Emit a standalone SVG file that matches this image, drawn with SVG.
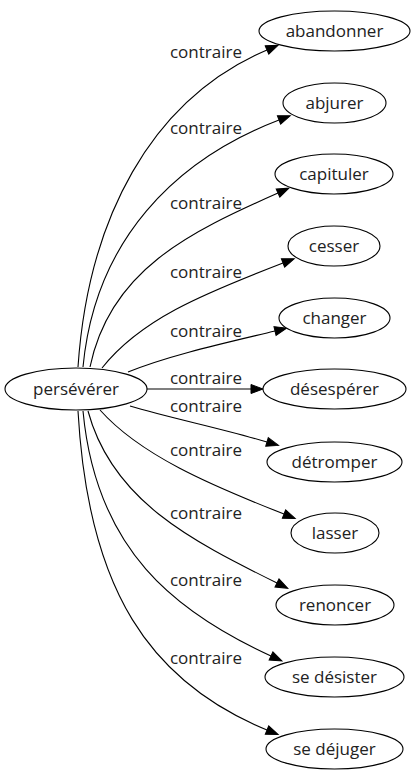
<svg xmlns="http://www.w3.org/2000/svg" width="415" height="779" viewBox="0 0 415 779">
<style>
.node ellipse{fill:#fff;stroke:#000;stroke-width:1.1}
.node text{font-family:"Open Sans","DejaVu Sans",sans-serif;font-size:17px;text-anchor:middle;fill:#222}
.edges path{fill:none;stroke:#000;stroke-width:1.1}
.edges text{font-family:"Open Sans","DejaVu Sans",sans-serif;font-size:17px;text-anchor:middle;fill:#222}
</style>
<defs>
<marker id="arr" markerUnits="userSpaceOnUse" markerWidth="14" markerHeight="10" refX="0" refY="4.5" orient="auto" overflow="visible">
<path d="M0,0 L12,4.5 L0,9 z" fill="#000" stroke="#000" stroke-width="1"/>
</marker>
</defs>
<g class="edges">
<path d="M78,367 C88,220 150,100 267,50" marker-end="url(#arr)"/>
<text x="206" y="58">contraire</text>
<path d="M83,367 C95,240 175,160 279,120" marker-end="url(#arr)"/>
<text x="206" y="134">contraire</text>
<path d="M90,367 C110,270 190,232 278,193" marker-end="url(#arr)"/>
<text x="206" y="209">contraire</text>
<path d="M102,368 C140,320 200,295 283,263" marker-end="url(#arr)"/>
<text x="206" y="278">contraire</text>
<path d="M128,372 C170,355 225,343 275,331" marker-end="url(#arr)"/>
<text x="206" y="337">contraire</text>
<path d="M147,389 L251,389" marker-end="url(#arr)"/>
<text x="206" y="384">contraire</text>
<path d="M130,406 C170,418 220,428 267,442" marker-end="url(#arr)"/>
<text x="206" y="412">contraire</text>
<path d="M100,410 C140,455 210,485 284,514" marker-end="url(#arr)"/>
<text x="206" y="456">contraire</text>
<path d="M88,411 C112,500 190,540 277,583" marker-end="url(#arr)"/>
<text x="206" y="519">contraire</text>
<path d="M83,411 C96,550 175,612 271,656" marker-end="url(#arr)"/>
<text x="206" y="586">contraire</text>
<path d="M78,411 C88,590 150,682 267,730" marker-end="url(#arr)"/>
<text x="206" y="664">contraire</text>
</g>
<g id="n0" class="node"><ellipse cx="76" cy="389" rx="71" ry="21"/><text x="76" y="395">persévérer</text></g>
<g id="n1" class="node"><ellipse cx="334.5" cy="31" rx="75.5" ry="20"/><text x="334.5" y="37">abandonner</text></g>
<g id="n2" class="node"><ellipse cx="334.5" cy="103" rx="51.5" ry="20"/><text x="334.5" y="109">abjurer</text></g>
<g id="n3" class="node"><ellipse cx="334" cy="174" rx="59" ry="20"/><text x="334" y="180">capituler</text></g>
<g id="n4" class="node"><ellipse cx="334" cy="246" rx="46" ry="20"/><text x="334" y="252">cesser</text></g>
<g id="n5" class="node"><ellipse cx="334.5" cy="318" rx="55.5" ry="20"/><text x="334.5" y="324">changer</text></g>
<g id="n6" class="node"><ellipse cx="334.5" cy="389" rx="71.5" ry="20"/><text x="334.5" y="395">désespérer</text></g>
<g id="n7" class="node"><ellipse cx="334.5" cy="462" rx="67.5" ry="20"/><text x="334.5" y="468">détromper</text></g>
<g id="n8" class="node"><ellipse cx="335" cy="533" rx="44" ry="20"/><text x="335" y="539">lasser</text></g>
<g id="n9" class="node"><ellipse cx="335" cy="605" rx="59" ry="20"/><text x="335" y="611">renoncer</text></g>
<g id="n10" class="node"><ellipse cx="334.5" cy="677" rx="69.5" ry="20"/><text x="334.5" y="683">se désister</text></g>
<g id="n11" class="node"><ellipse cx="334.5" cy="749" rx="68.5" ry="20"/><text x="334.5" y="755">se déjuger</text></g>
</svg>
